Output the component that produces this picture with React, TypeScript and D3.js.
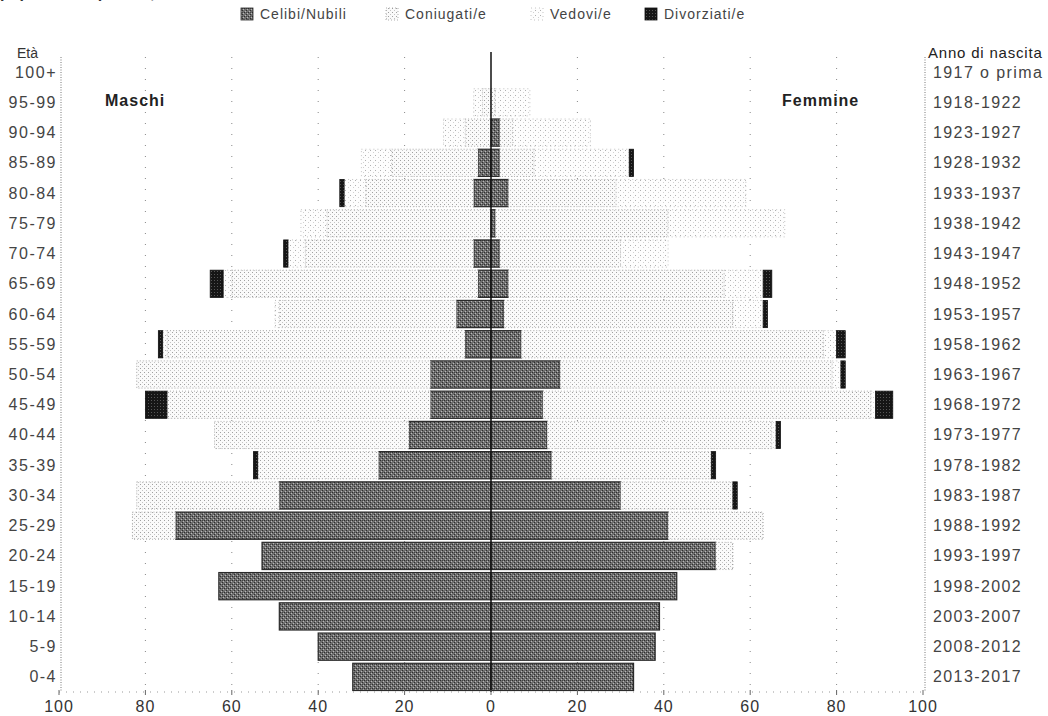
import React from "react";
import * as d3 from "d3";

const ageGroups = ["0-4","5-9","10-14","15-19","20-24","25-29","30-34","35-39","40-44","45-49","50-54","55-59","60-64","65-69","70-74","75-79","80-84","85-89","90-94","95-99","100+"];
const birthYears = ["2013-2017","2008-2012","2003-2007","1998-2002","1993-1997","1988-1992","1983-1987","1978-1982","1973-1977","1968-1972","1963-1967","1958-1962","1953-1957","1948-1952","1943-1947","1938-1942","1933-1937","1928-1932","1923-1927","1918-1922","1917 o prima"];

const maleCelibi =     [32,40,49,63,53,73,49,26,19,14,14, 6, 8, 3, 4, 0, 4, 3, 0,0,0];
const maleConiugati =  [ 0, 0, 0, 0, 0,10,33,28,45,61,68,69,41,57,39,38,25,20, 6,2,0];
const maleVedovi =     [ 0, 0, 0, 0, 0, 0, 0, 0, 0, 0, 0, 1, 1, 2, 4, 6, 5, 7, 5,2,0];
const maleDivorziati = [ 0, 0, 0, 0, 0, 0, 0, 1, 0, 5, 0, 1, 0, 3, 1, 0, 1, 0, 0,0,0];

const femaleCelibi =     [33,38,39,43,52,41,30,14,13,12,16, 7, 3, 4, 2, 1, 4, 2, 2,0,0];
const femaleConiugati =  [ 0, 0, 0, 0, 4,22,26,37,52,76,63,70,53,50,28,40,25, 8, 3,1,0];
const femaleVedovi =     [ 0, 0, 0, 0, 0, 0, 0, 0, 1, 1, 2, 3, 7, 9,11,27,30,22,18,8,0];
const femaleDivorziati = [ 0, 0, 0, 0, 0, 0, 1, 1, 1, 4, 1, 2, 1, 2, 0, 0, 0, 1, 0,0,0];

const statusKeys = ["celibi", "coniugati", "vedovi", "divorziati"];
const legendLabels = ["Celibi/Nubili", "Coniugati/e", "Vedovi/e", "Divorziati/e"];
const tickValues = [-100, -80, -60, -40, -20, 0, 20, 40, 60, 80, 100];

const fills: Record<string, string> = {
  celibi: "url(#pCelibi)",
  coniugati: "url(#pConiugati)",
  vedovi: "url(#pVedovi)",
  divorziati: "url(#pDivorziati)",
};
const strokes: Record<string, string> = {
  celibi: "#2a2a2a",
  coniugati: "#9a9a9a",
  vedovi: "#b5b5b5",
  divorziati: "#111",
};
const dashes: Record<string, string | undefined> = {
  celibi: undefined,
  coniugati: "1,2",
  vedovi: "1,3",
  divorziati: undefined,
};

const FONT = "'Liberation Sans', Arial, Helvetica, sans-serif";

export default function App() {
  const W = 1048, H = 716;
  const x = d3.scaleLinear().domain([-100, 100]).range([59, 923]);
  const y = d3.scaleBand<string>().domain([...ageGroups].reverse()).range([57, 692]).paddingInner(0.1).paddingOuter(0.05);

  const maleRows = ageGroups.map((a, i) => ({ age: a, celibi: maleCelibi[i], coniugati: maleConiugati[i], vedovi: maleVedovi[i], divorziati: maleDivorziati[i] }));
  const femaleRows = ageGroups.map((a, i) => ({ age: a, celibi: femaleCelibi[i], coniugati: femaleConiugati[i], vedovi: femaleVedovi[i], divorziati: femaleDivorziati[i] }));
  const stack = d3.stack<any>().keys(statusKeys);
  const maleStack = stack(maleRows);
  const femaleStack = stack(femaleRows);

  const bars: JSX.Element[] = [];
  const addBars = (series: d3.Series<any, string>[], sign: number, prefix: string) => {
    series.forEach((s) => {
      s.forEach((d, i) => {
        if (d[1] - d[0] <= 0) return;
        const x0 = x(sign * d[0]);
        const x1 = x(sign * d[1]);
        const age = ageGroups[i];
        bars.push(
          <rect key={`${prefix}-${s.key}-${age}`} x={Math.min(x0, x1)} y={y(age)} width={Math.abs(x1 - x0)} height={y.bandwidth()}
            fill={fills[s.key]} stroke={strokes[s.key]} strokeWidth={s.key === "celibi" ? 1.2 : 0.8} strokeDasharray={dashes[s.key]} />
        );
      });
    });
  };
  addBars(maleStack, -1, "m");
  addBars(femaleStack, 1, "f");

  const legendX = [241, 386, 531, 645];

  return (
    <svg width={W} height={H} style={{ display: "block", position: "absolute", left: 0, top: 0, background: "#fff" }} fontFamily={FONT}>
      <defs>
        <pattern id="pCelibi" width="4" height="4" patternUnits="userSpaceOnUse">
          <rect width="4" height="4" fill="#6f6f6f" />
          <rect x="0" y="0" width="1" height="1" fill="#2e2e2e" />
          <rect x="2" y="2" width="1" height="1" fill="#2e2e2e" />
          <rect x="1" y="3" width="1" height="1" fill="#b8b8b8" />
          <rect x="3" y="1" width="1" height="1" fill="#b8b8b8" />
          <rect x="2" y="0" width="1" height="1" fill="#444" />
        </pattern>
        <pattern id="pConiugati" width="4" height="4" patternUnits="userSpaceOnUse">
          <rect width="4" height="4" fill="#fafafa" />
          <rect x="0" y="0" width="1" height="1" fill="#a0a0a0" />
          <rect x="2" y="2" width="1" height="1" fill="#c4c4c4" />
        </pattern>
        <pattern id="pVedovi" width="5" height="5" patternUnits="userSpaceOnUse">
          <rect width="5" height="5" fill="#fdfdfd" />
          <rect x="0" y="0" width="1" height="1" fill="#b0b0b0" />
          <rect x="3" y="2" width="1" height="1" fill="#d0d0d0" />
        </pattern>
        <pattern id="pDivorziati" width="3" height="3" patternUnits="userSpaceOnUse">
          <rect width="3" height="3" fill="#161616" />
          <rect x="1" y="1" width="1" height="1" fill="#555" />
        </pattern>
      </defs>

      {/* title, cut off at the top edge as in the reference (only descenders visible) */}
      <text x={0} y={-2} fontSize={16} fontWeight="bold" fill="#333">popolazione per età, sesso e stato civile - 2018</text>

      {/* legend */}
      {statusKeys.map((k, i) => (
        <g key={k}>
          <rect x={legendX[i]} y={8} width={12} height={12} fill={fills[k]} stroke={strokes[k]} strokeWidth={0.8} strokeDasharray={dashes[k]} />
          <text x={legendX[i] + 19} y={19} fontSize={14} letterSpacing={1} fill="#444">{legendLabels[i]}</text>
        </g>
      ))}

      {/* vertical gridlines */}
      {tickValues.filter((t) => Math.abs(t) !== 100 && t !== 0).map((t) => (
        <line key={`g${t}`} x1={x(t)} x2={x(t)} y1={57} y2={692} stroke="#888" strokeWidth={1} strokeDasharray="1,10" />
      ))}

      {/* frame sides */}
      <line x1={x(-100) + 2} x2={x(-100) + 2} y1={57} y2={692} stroke="#777" strokeWidth={1} strokeDasharray="1,1.5" />
      <line x1={x(100) + 2} x2={x(100) + 2} y1={57} y2={692} stroke="#777" strokeWidth={1} strokeDasharray="1,1.5" />
      <line x1={x(-100)} x2={x(100)} y1={692} y2={692} stroke="#999" strokeWidth={1} strokeDasharray="1,6" />

      {bars}

      {/* zero line */}
      <line x1={x(0)} x2={x(0)} y1={52} y2={692} stroke="#111" strokeWidth={1.5} />

      {/* x tick labels */}
      {tickValues.map((t) => (
        <g key={`t${t}`}>
          <line x1={x(t)} x2={x(t)} y1={690} y2={695} stroke="#666" strokeWidth={1} />
          <text x={x(t)} y={712} fontSize={16} letterSpacing={1} textAnchor="middle" fill="#333">{Math.abs(t)}</text>
        </g>
      ))}

      {/* left age axis */}
      <text x={17} y={58} fontSize={14} fill="#333">Età</text>
      {ageGroups.map((a) => (
        <text key={`a${a}`} x={57} y={(y(a) as number) + y.bandwidth() / 2 + 5.5} fontSize={16} letterSpacing={1.5} textAnchor="end" fill="#444">{a}</text>
      ))}

      {/* right birth-year axis */}
      <text x={928} y={58} fontSize={15} letterSpacing={0.8} fill="#222">Anno di nascita</text>
      {ageGroups.map((a, i) => (
        <text key={`b${a}`} x={933} y={(y(a) as number) + y.bandwidth() / 2 + 5.5} fontSize={16} letterSpacing={1.4} fill="#444">{birthYears[i]}</text>
      ))}

      <text x={105} y={106} fontSize={16} fontWeight="bold" letterSpacing={1} fill="#222">Maschi</text>
      <text x={782} y={106} fontSize={16} fontWeight="bold" letterSpacing={1} fill="#222">Femmine</text>
    </svg>
  );
}
